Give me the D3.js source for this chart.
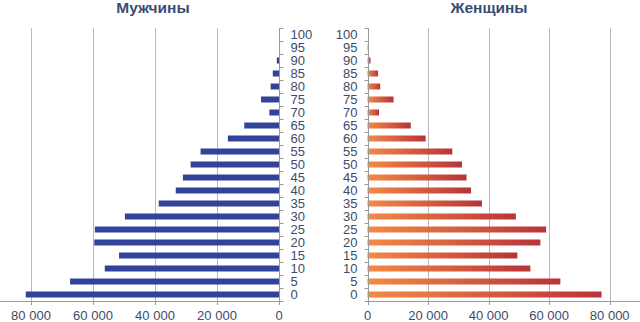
<!DOCTYPE html>
<html><head><meta charset="utf-8">
<script src="https://cdn.jsdelivr.net/npm/d3@7"></script>
<style>body{margin:0;background:#fff;}svg{display:block;}</style>
</head><body>
<svg id="chart" width="640" height="322"></svg>
<script>
const ages = [0,5,10,15,20,25,30,35,40,45,50,55,60,65,70,75,80,85,90,95,100];
const male = [81700,67400,56200,51600,59600,59400,49700,38800,33300,31000,28500,25300,16500,11200,3100,5800,2700,2000,700,0,0];
const female = [77300,63700,53800,49500,57100,59000,49000,37800,34200,32700,31200,28000,19200,14300,3800,8600,4200,3500,1000,300,0];
const xTicks = [0,20000,40000,60000,80000];
const titles = ["Мужчины","Женщины"];

(function(){
const svg = d3.select("#chart");
const font = "'Liberation Sans', Arial, sans-serif";
const textColor = "#3d4b6d";
const plotTop = 28, plotBottom = 301;

const y = d3.scaleBand().domain(ages.slice().reverse().map(String)).range([plotTop, plotBottom]).padding(0);
const xL = d3.scaleLinear().domain([0, 90000]).range([279, 0]);
const xR = d3.scaleLinear().domain([0, 90000]).range([367.5, 640]);
const fmt = v => v === 0 ? "0" : d3.format(",")(v).replace(/,/g, "\u00a0");

const defs = svg.append("defs");
const grad = defs.append("linearGradient").attr("id","fg").attr("x1","0").attr("x2","1").attr("y1","0").attr("y2","0");
grad.append("stop").attr("offset","0").attr("stop-color","#f58a44");
grad.append("stop").attr("offset","1").attr("stop-color","#b6343a");

function panel(x, data, side, fill, title, titleX) {
  const g = svg.append("g");
  g.selectAll(".grid").data(xTicks.filter(d => d > 0)).enter().append("line")
    .attr("x1", d => Math.round(x(d)) + 0.5).attr("x2", d => Math.round(x(d)) + 0.5).attr("y1", plotTop).attr("y2", plotBottom)
    .attr("stroke", "#b9b9b9").attr("stroke-width", 1);
  const bh = 6;
  g.selectAll(".bar").data(ages.map((a,i)=>({a, v:data[i]}))).enter().append("rect")
    .attr("x", d => Math.min(x(0), x(d.v)))
    .attr("width", d => Math.abs(x(d.v) - x(0)))
    .attr("y", d => y(String(d.a)) + y.bandwidth()/2 - bh/2)
    .attr("height", bh)
    .attr("fill", fill);
  const ext = x.range();
  g.append("line").attr("x1", ext[0]).attr("x2", ext[1]).attr("y1", plotBottom + 0.5).attr("y2", plotBottom + 0.5)
    .attr("stroke", "#9a9a9a");
  g.selectAll(".xt").data(xTicks).enter().append("line")
    .attr("x1", d => Math.round(x(d)) + 0.5).attr("x2", d => Math.round(x(d)) + 0.5).attr("y1", plotBottom).attr("y2", plotBottom + 4)
    .attr("stroke", "#9a9a9a");
  g.selectAll(".xl").data(xTicks).enter().append("text")
    .attr("x", d => x(d)).attr("y", 319.5).attr("text-anchor","middle")
    .attr("font-family", font).attr("font-size", "13px").attr("fill", textColor)
    .text(fmt);
  const ax = Math.round(x(0)) + 0.5;
  g.append("line").attr("x1", ax).attr("x2", ax).attr("y1", plotTop).attr("y2", plotBottom).attr("stroke", "#9a9a9a");
  const bounds = y.domain().map(d => y(d)).concat([plotBottom]);
  g.selectAll(".yt").data(bounds).enter().append("line")
    .attr("x1", ax).attr("x2", ax + side * 4).attr("y1", d => Math.round(d) + 0.5).attr("y2", d => Math.round(d) + 0.5)
    .attr("stroke", "#9a9a9a");
  g.selectAll(".yl").data(ages).enter().append("text")
    .attr("x", ax + side * 11)
    .attr("y", d => y(String(d)) + y.bandwidth()/2 + 4.7)
    .attr("text-anchor", side > 0 ? "start" : "end")
    .attr("font-family", font).attr("font-size", "13px").attr("fill", textColor)
    .text(d => d);
  g.append("text").attr("x", titleX).attr("y", 12.5).attr("text-anchor","middle")
    .attr("font-family", font).attr("font-size", "15.5px").attr("font-weight","bold").attr("fill", "#3a4c72")
    .text(title);
}

panel(xL, male, 1, "#33439a", titles[0], 153);
panel(xR, female, -1, "url(#fg)", titles[1], 489);
})();
</script>
</body></html>
